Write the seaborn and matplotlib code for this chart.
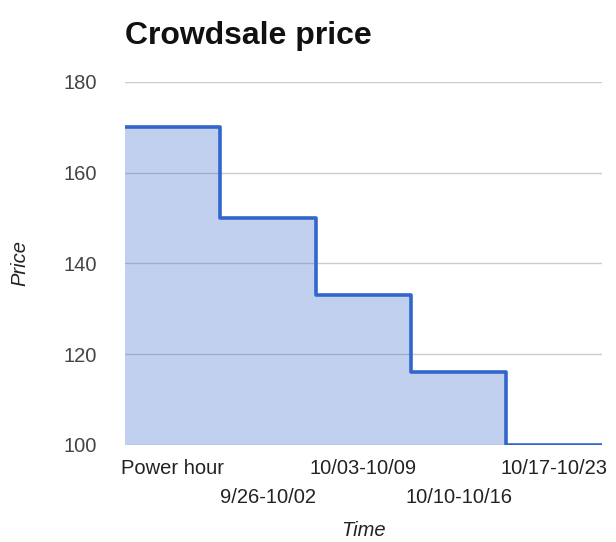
import numpy as np
import matplotlib
matplotlib.use('Agg')
import matplotlib.pyplot as plt
import seaborn as sns

# crowdsale price per period
periods = ['Power hour', '9/26-10/02', '10/03-10/09', '10/10-10/16', '10/17-10/23']
prices = [170, 150, 133, 116, 100]
y_ticks = [100, 120, 140, 160, 180]

LINE = '#3366cc'


def main():
    sns.set_style('white')
    plt.rcParams['font.family'] = ['Liberation Sans', 'DejaVu Sans']

    fig = plt.figure(figsize=(6.16, 5.42), dpi=100)
    ax = fig.add_axes([0.203, 0.179, 0.774, 0.670])

    # step edges around each category slot
    edges = np.arange(len(periods) + 1) - 0.5
    vals = prices + [prices[-1]]

    ax.fill_between(edges, vals, 100, step='post', color=LINE, alpha=0.3,
                    linewidth=0, zorder=2)
    sns.lineplot(x=edges, y=vals, drawstyle='steps-post', color=LINE,
                 linewidth=2.6, ax=ax, zorder=3)

    ax.set_xlim(-0.5, len(periods) - 0.5)
    ax.set_ylim(100, 180)
    ax.set_yticks(y_ticks)
    ax.set_yticklabels([str(t) for t in y_ticks], fontsize=14.5, color='#444444')

    # alternate the category labels on two rows
    even = list(range(0, len(periods), 2))
    odd = list(range(1, len(periods), 2))
    ax.set_xticks(even)
    ax.set_xticklabels([periods[i] for i in even], fontsize=14.5, color='#222222')
    ax.set_xticks(odd, minor=True)
    ax.set_xticklabels([periods[i] for i in odd], minor=True, fontsize=14.5,
                       color='#222222')
    ax.tick_params(axis='both', which='both', length=0)
    ax.tick_params(axis='y', pad=20)
    ax.tick_params(axis='x', which='major', pad=10)
    ax.tick_params(axis='x', which='minor', pad=31)

    ax.grid(axis='y', color='#cccccc', linewidth=1, zorder=0)
    ax.grid(axis='x', which='both', visible=False)
    for s in ax.spines.values():
        s.set_visible(False)

    ax.set_xlabel('Time', fontsize=14.5, style='italic', color='#222222', labelpad=10)
    ax.set_ylabel('Price', fontsize=14.5, style='italic', color='#222222', labelpad=25)
    fig.text(0.203, 0.918, 'Crowdsale price', fontsize=23, fontweight='bold',
             ha='left', va='baseline', color='#111111')

    fig.savefig('out.png', dpi=100)
    plt.close(fig)


if __name__ == '__main__':
    main()
